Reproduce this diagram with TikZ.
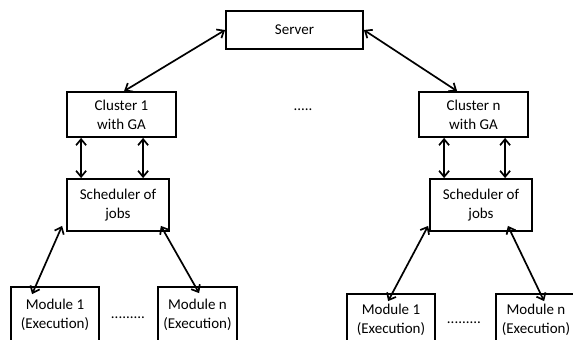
\documentclass[tikz,border=0pt]{standalone}
\usepackage{fontspec}
\setmainfont{Carlito}
\usetikzlibrary{arrows.meta}
\begin{document}
\begin{tikzpicture}[x=1pt,y=-1pt,
  box/.style={draw, line width=1.8pt, rectangle, align=center, inner sep=0pt,
    font=\fontsize{15}{19}\selectfont},
  biarrow/.style={{Straight Barb[length=6pt,width=10pt]}-{Straight Barb[length=6pt,width=10pt]}, line width=1.7pt},
  lbl/.style={font=\fontsize{15}{19}\selectfont}]
\useasboundingbox (0,0) rectangle (573,340);
\node[box, minimum width=137pt, minimum height=38pt] (srv) at (294.5,30) {Server};
\node[box, minimum width=109pt, minimum height=45pt] (c1) at (121.5,114.5) {Cluster 1\\with GA};
\node[box, minimum width=109pt, minimum height=45pt] (cn) at (473.5,114.5) {Cluster n\\with GA};
\node[lbl] (dots) at (303,110) {.....};
\node[box, minimum width=102pt, minimum height=52pt] (s1) at (118,205) {Scheduler of\\jobs};
\node[box, minimum width=102pt, minimum height=52pt] (sn) at (481,205) {Scheduler of\\jobs};
\node[box, minimum width=88pt, minimum height=56pt] (m1) at (55,315) {Module 1\\(Execution)};
\node[box, minimum width=79pt, minimum height=56pt] (mn) at (197.5,315) {Module n\\(Execution)};
\node[lbl] (d1) at (128,318) {.........};
\node[box, minimum width=88pt, minimum height=51pt] (r1) at (391,319.5) {Module 1\\(Execution)};
\node[box, minimum width=80pt, minimum height=51pt] (rn) at (536,319.5) {Module n\\(Execution)};
\node[lbl] (d2) at (464,323) {.........};
% server to clusters
\draw[biarrow] (srv.west) -- ([xshift=58pt]c1.north west);
\draw[biarrow] (srv.east) -- ([xshift=39pt]cn.north west);
% clusters to schedulers
\draw[biarrow] ([xshift=15pt]c1.south west) -- ([xshift=15pt]s1.north west);
\draw[biarrow] ([xshift=77pt]c1.south west) -- ([xshift=77pt]s1.north west);
\draw[biarrow] ([xshift=26pt]cn.south west) -- ([xshift=15pt]sn.north west);
\draw[biarrow] ([xshift=87pt]cn.south west) -- ([xshift=76pt]sn.north west);
% schedulers to modules
\draw[biarrow] ([xshift=-4pt,yshift=6pt]s1.south west) -- ([xshift=22pt,yshift=-8pt]m1.north west);
\draw[biarrow] ([xshift=-9pt,yshift=6pt]s1.south east) -- ([xshift=42pt,yshift=-7pt]mn.north west);
\draw[biarrow] ([xshift=-1pt,yshift=6pt]sn.south west) -- ([xshift=42pt,yshift=-8pt]r1.north west);
\draw[biarrow] ([xshift=-25pt,yshift=6pt]sn.south east) -- ([xshift=49pt,yshift=-8pt]rn.north west);
\end{tikzpicture}
\end{document}
